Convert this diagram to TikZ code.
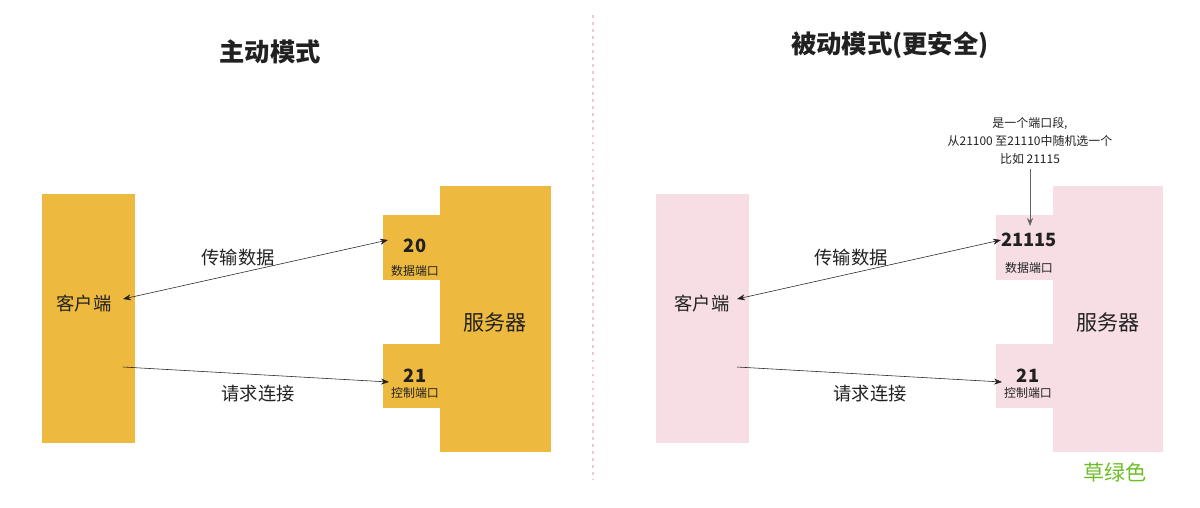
\documentclass[tikz,border=0pt]{standalone}
\usepackage{fontspec}
\setmainfont{Noto Sans CJK SC}
\usetikzlibrary{arrows.meta, positioning}
\definecolor{gold}{RGB}{237, 185, 63}
\definecolor{pinkbg}{RGB}{246, 222, 228}
\definecolor{textdark}{RGB}{33, 33, 33}
\definecolor{grassgreen}{RGB}{110, 190, 40}
\definecolor{dashpink}{RGB}{240, 200, 210}

\begin{document}
\begin{tikzpicture}[
    x=0.025cm, y=-0.025cm,
    block/.style={rectangle, inner sep=0pt, anchor=north west},
    lbl/.style={font=\fontsize{13}{15}\selectfont, text=textdark},
    num/.style={font=\bfseries\fontsize{13}{15}\selectfont, text=textdark},
    small/.style={font=\fontsize{8.5}{10}\selectfont, text=textdark},
    arrow/.style={-{Stealth[length=2mm]}, thin, color=textdark},
]
\useasboundingbox (0,0) rectangle (1200,507);

% Divider
\draw[dashpink, dash pattern=on 2pt off 3pt, line width=1pt] (593,15) -- (593,480);

% Active mode
\node[lbl, font=\bfseries\fontsize{18}{21}\selectfont] (titleA) at (270,52) {主动模式};
\node[block, fill=gold, minimum width=2.325cm, minimum height=6.225cm] (clientA) at (42,194) {};
\node[block, fill=gold, minimum width=2.775cm, minimum height=6.65cm] (serverA) at (440,186) {};
\node[block, fill=gold, minimum width=1.45cm, minimum height=1.625cm] (dataA) at (383,215) {};
\node[block, fill=gold, minimum width=1.45cm, minimum height=1.6cm] (ctrlA) at (383,344) {};
\node[lbl] at (84,304) {客户端};
\node[lbl, font=\fontsize{15}{17}\selectfont] at (495,322) {服务器};
\node[num] at (415,246) {20};
\node[small] at (415,271) {数据端口};
\node[num] at (415,376) {21};
\node[small] at (415,393) {控制端口};
\coordinate (cdA) at (123,299);
\coordinate (pdA) at (388,240);
\coordinate (crA) at (123,367);
\coordinate (prA) at (389,382);
\draw[arrow, {Stealth[length=2mm]}-{Stealth[length=2mm]}] (cdA) -- (pdA);
\draw[arrow] (crA) -- (prA);
\node[lbl] at (238,258) {传输数据};
\node[lbl] at (258,394) {请求连接};

% Passive mode
\node[lbl, font=\bfseries\fontsize{18}{21}\selectfont] (titleB) at (890,45) {被动模式(更安全)};
\node[block, fill=pinkbg, minimum width=2.325cm, minimum height=6.225cm] (clientB) at (656,194) {};
\node[block, fill=pinkbg, minimum width=2.75cm, minimum height=6.65cm] (serverB) at (1053,186) {};
\node[block, fill=pinkbg, minimum width=1.425cm, minimum height=1.625cm] (dataB) at (996,215) {};
\node[block, fill=pinkbg, minimum width=1.425cm, minimum height=1.6cm] (ctrlB) at (996,344) {};
\node[lbl] at (702,304) {客户端};
\node[lbl, font=\fontsize{15}{17}\selectfont] at (1108,322) {服务器};
\node[num] (portB) at (1029,240) {21115};
\node[small] at (1029,268) {数据端口};
\node[num] at (1028,376) {21};
\node[small] at (1028,393) {控制端口};
\node[small, align=center, font=\fontsize{8.5}{12.5}\selectfont] (note) at (1030,141) {是一个端口段,\\从21100 至21110中随机选一个\\比如 21115};
\coordinate (cdB) at (737,299);
\coordinate (pdB) at (1001,240);
\coordinate (crB) at (737,367);
\coordinate (prB) at (1002,382);
\coordinate (tipB) at (1030,226);
\draw[arrow, {Stealth[length=2mm]}-{Stealth[length=2mm]}] (cdB) -- (pdB);
\draw[arrow] (crB) -- (prB);
\draw[arrow, color=textdark!70] (note) -- (tipB);
\node[lbl] at (851,258) {传输数据};
\node[lbl] at (870,394) {请求连接};
\node[lbl, text=grassgreen, font=\fontsize{15}{17}\selectfont] (green) at (1115,472) {草绿色};
\end{tikzpicture}
\end{document}
